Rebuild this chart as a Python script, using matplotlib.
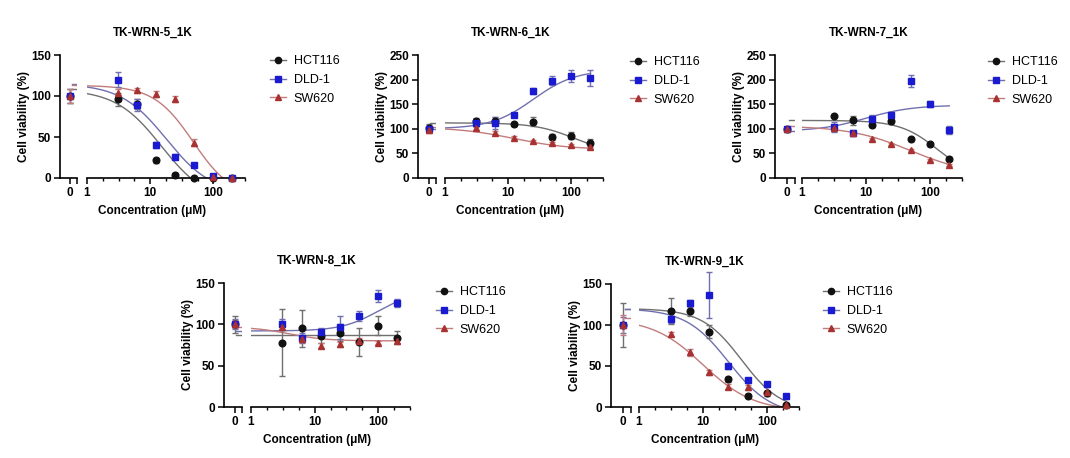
import numpy as np
import matplotlib.pyplot as plt
from matplotlib.lines import Line2D

plt.rcParams['font.family'] = ['Liberation Sans', 'DejaVu Sans']

W, H = 1070, 458
conc = [0, 3.125, 6.25, 12.5, 25, 50, 100, 200]
names = ['HCT116', 'DLD-1', 'SW620']

# TK-WRN-5_1K
w5_hct = [100, 96, 90, 21.5, 4, 0, 0, 0]
w5_dld = [100, 120, 89, 40.5, 26, 16, 2, 0]
w5_sw = [100, 104, 107, 102.5, 96.5, 43, 1, 0]
w5_hct_err = [9, 8, 6, 3, 2, 1, 1, 1]
w5_dld_err = [8, 9, 7, 4, 3, 2, 1, 1]
w5_sw_err = [8, 5, 3, 4, 4, 4, 1, 1]
# fit params: top, bottom, ic50, hill
w5_fits = [[108, -30, 15, 1.2], [115, -20, 18, 1.2], [113, -25, 48, 1.4]]

# TK-WRN-6_1K
w6_hct = [101, 116, 116, 109, 114, 84, 86, 70.5]
w6_dld = [99, 111, 111, 129, 176, 197.5, 207, 203]
w6_sw = [97, 101, 92, 82, 75, 72, 67, 62]
w6_hct_err = [8, 5, 8, 3, 9, 6, 7, 8]
w6_dld_err = [6, 5, 12, 4, 6, 9, 12, 17]
w6_sw_err = [5, 3, 3, 3, 3, 2, 2, 3]
w6_fits = [[112, 50, 110, 1.4], [100, 220, 25, 1.3], [103, 58, 12, 1.0]]

# TK-WRN-7_1K
w7_hct = [100, 126, 117.5, 107.5, 116, 78.6, 69, 38]
w7_dld = [100, 103, 91, 120, 128, 197, 150, 97.5]
w7_sw = [100, 101, 92, 78.6, 68.5, 56, 37, 27]
w7_hct_err = [3, 3, 9, 4, 6, 3, 3, 4]
w7_dld_err = [3, 10, 6, 8, 6, 12, 6, 8]
w7_sw_err = [3, 3, 2, 2, 2, 2, 2, 2]
w7_fits = [[117, 0, 130, 1.5], [95, 148, 10, 1.2], [106, 5, 50, 0.9]]

# TK-WRN-8_1K
w8_hct = [100, 78, 95, 86, 90, 79, 98.5, 84]
w8_dld = [100, 100, 84, 91, 96.5, 110, 134.5, 125.7]
w8_sw = [100, 97, 82, 74, 76, 80, 78, 80]
w8_hct_err = [10, 40, 22, 8, 10, 17, 11, 8]
w8_dld_err = [6, 7, 6, 5, 14, 6, 7, 5]
w8_sw_err = [5, 4, 3, 3, 3, 3, 2, 2]
w8_fits = [[87, 87, 10, 1.0], [92, 140, 100, 1.5], [97, 80, 4, 1.5]]

# TK-WRN-9_1K
w9_hct = [100, 117.5, 117.5, 92, 34, 14, 17, 2]
w9_dld = [100, 107, 126.5, 136.6, 49.5, 32.4, 28, 13]
w9_sw = [100, 89, 66.5, 42.6, 25, 24, 18, 3]
w9_hct_err = [27, 16, 6, 8, 3, 2, 3, 2]
w9_dld_err = [10, 4, 4, 28, 3, 3, 3, 3]
w9_sw_err = [12, 3, 4, 3, 3, 3, 2, 2]
w9_fits = [[120, -5, 40, 1.4], [120, -10, 25, 1.3], [108, -5, 10, 1.1]]

mk_colors = ['#111111', '#1a1ad0', '#a83232']
fit_colors = ['#707070', '#7070b0', '#c27c7c']
markers = ['o', 's', '^']


def fx(px):
    return px / W


def fy(py):
    return 1 - py / H


def draw_panel(title, xs, ytop, ybot, ymax, ystep, series, errs, fits, leg):
    x_sp, x_zend, x_lstart, x_lend = xs
    ax0 = fig.add_axes([fx(x_sp), fy(ybot), fx(x_zend - x_sp), (ybot - ytop) / H])
    ax1 = fig.add_axes([fx(x_lstart), fy(ybot), fx(x_lend - x_lstart), (ybot - ytop) / H])
    for ax in (ax0, ax1):
        ax.set_ylim(0, ymax)
        ax.spines['top'].set_visible(False)
        ax.spines['right'].set_visible(False)
        ax.spines['bottom'].set_linewidth(1.2)
        ax.spines['left'].set_linewidth(1.2)
        ax.tick_params(direction='out', width=1.1, length=4, labelsize=8.5, pad=2.5)
        ax.patch.set_alpha(0)
    ax1.spines['left'].set_visible(False)
    ax1.set_yticks([])
    ax0.set_xlim(-1, 0.7)
    ax0.set_xticks([0, 0.7])
    ax0.set_xticklabels(['0', ''])
    ax0.set_yticks(np.arange(0, ymax + 1, ystep))
    ax1.set_xscale('log')
    ax1.set_xlim(1, 10 ** 2.5)
    ax1.set_xticks([1, 10, 100])
    ax1.set_xticklabels(['1', '10', '100'])
    ax1.set_xticks([10 ** (k * 0.25) for k in range(11) if k % 4 != 0], minor=True)
    ax1.tick_params(which='minor', length=2.5, width=1)
    for ax in (ax0, ax1):
        for lab in ax.get_xticklabels() + ax.get_yticklabels():
            lab.set_fontweight('bold')

    xx = np.logspace(0, np.log10(200), 200)
    for i in range(3):
        top, bottom, ic50, hill = fits[i]
        ax1.plot(xx, bottom + (top - bottom) / (1 + (xx / ic50) ** hill),
                 color=fit_colors[i], lw=1, zorder=2)
        ax0.plot([0.15, 0.7], [top, top], color=fit_colors[i], lw=1, zorder=2)
    for i in range(3):
        y = series[i]
        e = errs[i]
        ax0.errorbar([conc[0]], [y[0]], yerr=[e[0]], fmt=markers[i], color=mk_colors[i],
                     ecolor=fit_colors[i], elinewidth=1, capsize=2.5, ms=4.8, clip_on=False, zorder=3)
        ax1.errorbar(conc[1:], y[1:], yerr=e[1:], fmt=markers[i], color=mk_colors[i],
                     ecolor=fit_colors[i], elinewidth=1, capsize=2.5, ms=4.8, clip_on=False, zorder=3)

    cx = (x_sp + x_lend) / 2
    fig.text(fx(cx), fy(ytop - 22), title, ha='center', va='center', fontsize=8.5, fontweight='bold')
    fig.text(fx(cx), fy(ybot + 33), 'Concentration (\u03bcM)', ha='center', va='center',
             fontsize=8.5, fontweight='bold')
    fig.text(fx(x_sp - 36), fy((ytop + ybot) / 2), 'Cell viability (%)', ha='center', va='center',
             rotation=90, fontsize=8.5, fontweight='bold')

    handles = [Line2D([], [], color=fit_colors[i], marker=markers[i], mfc=mk_colors[i],
                      mec=mk_colors[i], ms=4.5, lw=1) for i in range(3)]
    fig.legend(handles, names, loc='upper left', bbox_to_anchor=(fx(leg[0]), fy(leg[1])),
               frameon=False, fontsize=9, handlelength=1.3, handletextpad=0.6,
               labelspacing=0.55, borderpad=0, borderaxespad=0)


fig = plt.figure(figsize=(W / 100, H / 100), dpi=100)

draw_panel('TK-WRN-5_1K', (60, 77, 87, 245), 55, 178, 150, 50,
           [w5_hct, w5_dld, w5_sw], [w5_hct_err, w5_dld_err, w5_sw_err], w5_fits, (270, 55))
draw_panel('TK-WRN-6_1K', (418, 436, 445, 603), 55, 178, 250, 50,
           [w6_hct, w6_dld, w6_sw], [w6_hct_err, w6_dld_err, w6_sw_err], w6_fits, (630, 56))
draw_panel('TK-WRN-7_1K', (775, 795, 802, 962), 55, 178, 250, 50,
           [w7_hct, w7_dld, w7_sw], [w7_hct_err, w7_dld_err, w7_sw_err], w7_fits, (988, 56))
draw_panel('TK-WRN-8_1K', (224, 242, 251, 410), 283, 407, 150, 50,
           [w8_hct, w8_dld, w8_sw], [w8_hct_err, w8_dld_err, w8_sw_err], w8_fits, (436, 286))
draw_panel('TK-WRN-9_1K', (611, 631, 639, 799), 284, 407, 150, 50,
           [w9_hct, w9_dld, w9_sw], [w9_hct_err, w9_dld_err, w9_sw_err], w9_fits, (823, 286))

plt.savefig('out.png', dpi=100)
